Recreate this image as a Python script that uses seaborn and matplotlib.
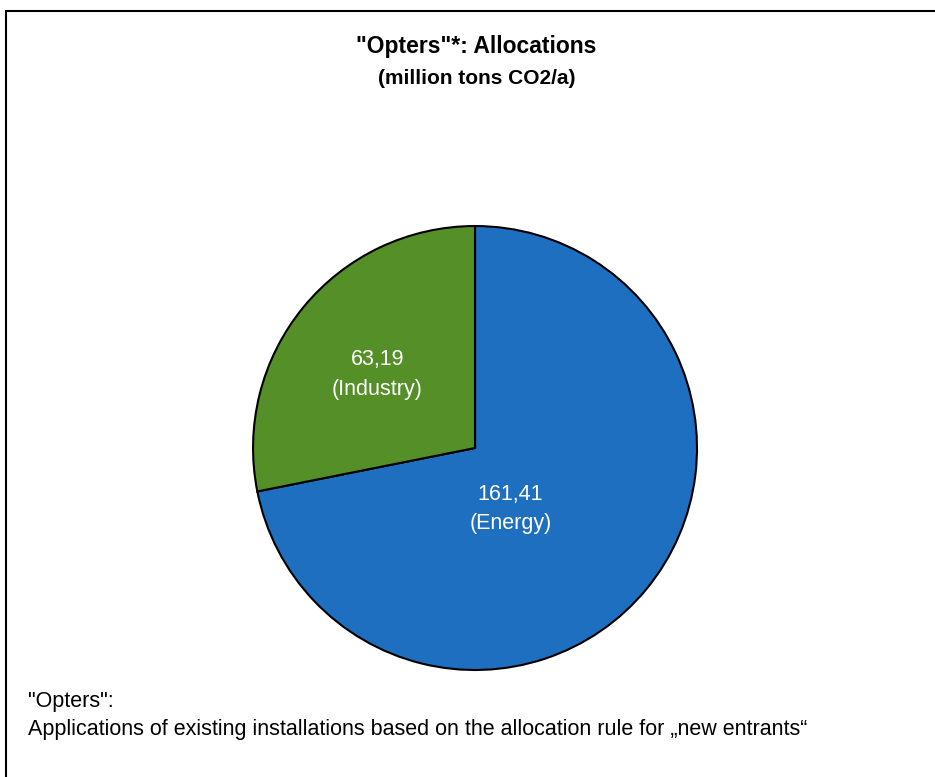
import matplotlib
matplotlib.use("Agg")
import matplotlib.pyplot as plt
import seaborn as sns

# Allocation data (million tons CO2/a)
sectors = ["Energy", "Industry"]
values = [161.41, 63.19]
value_labels = ["161,41", "63,19"]
colors = ["#1F6FC0", "#548F27"]

sns.set_theme(style="white")
plt.rcParams['font.family'] = ['Liberation Sans', 'DejaVu Sans']

fig = plt.figure(figsize=(9.35, 7.77), dpi=100)

# frame around the chart area
frame = plt.Rectangle((6 / 935, -0.05), 1.2, 1 - 11 / 777 + 0.05, transform=fig.transFigure,
                      fill=False, edgecolor="black", linewidth=1.5)
fig.patches.append(frame)

ax = fig.add_axes([0.2706, 0.1377, 0.4749, 0.5714])
wedges, _ = ax.pie(values, colors=colors, startangle=90, counterclock=False,
                   wedgeprops=dict(edgecolor="black", linewidth=1.5))
ax.set_xlim(-1, 1)
ax.set_ylim(-1, 1)
ax.set_aspect("equal")
ax.axis("off")

# slice labels
label_pos = {"Energy": (0.16, -0.275), "Industry": (-0.44, 0.33)}
for name, lab in zip(sectors, value_labels):
    x, y = label_pos[name]
    ax.text(x, y, f"{lab}\n({name})", ha="center", va="center", color="white",
            fontsize=15.5, linespacing=1.55)

fig.text(476 / 935, 1 - 47 / 777, '"Opters"*: Allocations', ha="center", va="center",
         fontsize=16.5, fontweight="bold", color="black")
fig.text(477 / 935, 1 - 78 / 777, "(million tons CO2/a)", ha="center", va="center",
         fontsize=15, fontweight="bold", color="black")

fig.text(28 / 935, 1 - 702 / 777, '"Opters":', ha="left", va="center", fontsize=15.5,
         color="black")
fig.text(28 / 935, 1 - 729 / 777,
         "Applications of existing installations based on the allocation rule for \u201enew entrants\u201c",
         ha="left", va="center", fontsize=15.5, color="black")

fig.savefig("out.png", dpi=100)
